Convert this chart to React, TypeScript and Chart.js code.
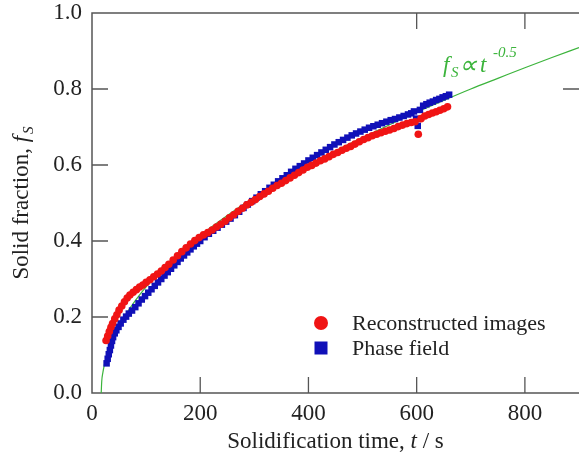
import React, { useEffect, useRef } from "react";
import { Chart, registerables } from "chart.js";

Chart.register(...registerables);

// ---------- data ----------
const reconTimes = [
  26, 29, 32, 35, 38, 42, 46, 50, 55, 60, 65, 70, 76, 82, 88, 94, 100, 107, 114, 121, 128, 135, 142, 150,
  158, 166, 174, 182, 190, 198, 206, 214, 222, 230, 238, 246, 254, 262, 270, 278, 286, 294, 302, 310, 318,
  326, 334, 342, 350, 358, 366, 374, 382, 390, 398, 406, 414, 422, 430, 438, 446, 454, 462, 470, 478, 486,
  494, 502, 510, 518, 526, 534, 542, 550, 558, 566, 574, 582, 590, 597, 603, 608, 615, 622, 629, 636, 643,
  650, 657,
];
const reconFractions = [
  0.138, 0.15, 0.162, 0.173, 0.183, 0.195, 0.206, 0.218, 0.229, 0.24, 0.25, 0.258, 0.265, 0.272, 0.279,
  0.284, 0.291, 0.298, 0.306, 0.313, 0.321, 0.33, 0.339, 0.35, 0.361, 0.372, 0.382, 0.392, 0.401, 0.409,
  0.416, 0.422, 0.429, 0.437, 0.444, 0.452, 0.461, 0.469, 0.478, 0.486, 0.495, 0.502, 0.509, 0.517, 0.524,
  0.531, 0.539, 0.546, 0.552, 0.559, 0.566, 0.573, 0.58, 0.587, 0.594, 0.599, 0.605, 0.611, 0.616, 0.622,
  0.628, 0.633, 0.639, 0.644, 0.649, 0.655, 0.661, 0.667, 0.672, 0.677, 0.681, 0.685, 0.689, 0.692, 0.696,
  0.701, 0.705, 0.709, 0.712, 0.714, 0.681, 0.722, 0.729, 0.733, 0.737, 0.74, 0.744, 0.748, 0.753,
];

const phaseTimes = [
  27, 29, 31, 33, 35, 37, 39, 42, 45, 49, 53, 58, 63, 68, 74, 80, 86, 92, 98, 104, 110, 116, 122, 128, 134,
  140, 146, 152, 158, 164, 170, 176, 182, 188, 194, 200, 208, 216, 224, 232, 240, 248, 256, 264, 272, 280,
  288, 296, 304, 312, 320, 328, 336, 344, 352, 360, 368, 376, 384, 392, 400, 408, 416, 424, 432, 440, 448,
  456, 464, 472, 480, 488, 496, 504, 512, 520, 528, 536, 544, 552, 560, 568, 576, 584, 590, 595, 599, 602,
  606, 612, 618, 624, 630, 636, 642, 648, 654, 660,
];
const phaseFractions = [
  0.078, 0.09, 0.102, 0.113, 0.125, 0.137, 0.147, 0.157, 0.165, 0.174, 0.183, 0.193, 0.201, 0.209, 0.217,
  0.226, 0.236, 0.246, 0.255, 0.264, 0.273, 0.282, 0.291, 0.3, 0.309, 0.318, 0.327, 0.336, 0.345, 0.354,
  0.362, 0.37, 0.378, 0.386, 0.393, 0.4, 0.41, 0.419, 0.427, 0.435, 0.443, 0.451, 0.459, 0.468, 0.477,
  0.487, 0.496, 0.505, 0.514, 0.523, 0.531, 0.54, 0.548, 0.557, 0.565, 0.573, 0.582, 0.59, 0.597, 0.604,
  0.612, 0.619, 0.626, 0.633, 0.64, 0.647, 0.654, 0.66, 0.666, 0.672, 0.678, 0.683, 0.688, 0.693, 0.698,
  0.702, 0.706, 0.71, 0.714, 0.718, 0.721, 0.725, 0.729, 0.733, 0.736, 0.741, 0.722, 0.703, 0.745, 0.756,
  0.76, 0.764, 0.767, 0.771, 0.774, 0.778, 0.781, 0.785,
];

const fitTimes = [17, 18, 20, 23, 27, 32, 40, 50, 65, 80, 100, 130, 160, 200, 250, 300, 350, 400, 450, 500, 550, 600, 650, 700, 750, 800, 850, 900];
const fitFractions = [0, 0.031, 0.053, 0.075, 0.097, 0.118, 0.147, 0.176, 0.212, 0.243, 0.279, 0.325, 0.366, 0.414, 0.467, 0.515, 0.558, 0.599, 0.637, 0.672, 0.706, 0.739, 0.77, 0.8, 0.828, 0.856, 0.883, 0.909];

const seriesLabels = ["Reconstructed images", "Phase field"];
const xAxisRange = [0, 900];
const yAxisRange = [0, 1];
const xStep = 200;
const yStep = 0.2;
const topTickValues = [600, 800];
const rightTickValues = [0.8];

// ---------- style ----------
const SERIF = "'Liberation Serif', 'Times New Roman', serif";
const RED = "#f01414";
const BLUE = "#1010b8";
const GREEN = "#3cb43c";
const AXIS = "#555555";
const TEXT = "#222222";

type Run = { text: string; italic?: boolean; size: number; dy?: number; gap?: number };

function drawRuns(ctx: CanvasRenderingContext2D, runs: Run[], x: number, y: number) {
  let cx = x;
  for (const r of runs) {
    cx += r.gap || 0;
    ctx.font = `${r.italic ? "italic " : ""}${r.size}px ${SERIF}`;
    ctx.fillText(r.text, cx, y + (r.dy || 0));
    cx += ctx.measureText(r.text).width;
  }
}
function runsWidth(ctx: CanvasRenderingContext2D, runs: Run[]) {
  let w = 0;
  for (const r of runs) {
    ctx.font = `${r.italic ? "italic " : ""}${r.size}px ${SERIF}`;
    w += ctx.measureText(r.text).width + (r.gap || 0);
  }
  return w;
}

const decorPlugin = {
  id: "decor",
  beforeDatasetsDraw(chart: any) {
    const { ctx, chartArea: a, scales } = chart;
    const x = scales.x;
    const y = scales.y;
    ctx.save();
    ctx.strokeStyle = AXIS;
    ctx.lineWidth = 1.5;
    ctx.beginPath();
    ctx.moveTo(a.right + 2, a.top);
    ctx.lineTo(a.left, a.top);
    ctx.lineTo(a.left, a.bottom);
    ctx.lineTo(a.right + 2, a.bottom);
    ctx.stroke();
    const L = 16;
    ctx.lineWidth = 1.3;
    ctx.beginPath();
    for (const t of x.ticks) {
      if (t.value <= xAxisRange[0]) continue;
      const px = x.getPixelForValue(t.value);
      ctx.moveTo(px, a.bottom);
      ctx.lineTo(px, a.bottom - L);
    }
    for (const v of topTickValues) {
      const px = x.getPixelForValue(v);
      ctx.moveTo(px, a.top);
      ctx.lineTo(px, a.top + L);
    }
    for (const t of y.ticks) {
      if (t.value <= yAxisRange[0] || t.value >= yAxisRange[1]) continue;
      const py = y.getPixelForValue(t.value);
      ctx.moveTo(a.left, py);
      ctx.lineTo(a.left + L, py);
    }
    for (const v of rightTickValues) {
      const py = y.getPixelForValue(v);
      ctx.moveTo(a.right + 2, py);
      ctx.lineTo(a.right - L, py);
    }
    ctx.stroke();
    ctx.restore();
  },
  afterDatasetsDraw(chart: any) {
    const { ctx, chartArea: a } = chart;
    ctx.save();
    ctx.fillStyle = TEXT;
    ctx.textBaseline = "alphabetic";
    ctx.textAlign = "left";

    // x title
    const xRuns: Run[] = [
      { text: "Solidification time, ", size: 23 },
      { text: "t", italic: true, size: 23 },
      { text: " / s", size: 23 },
    ];
    const xw = runsWidth(ctx, xRuns);
    drawRuns(ctx, xRuns, (a.left + a.right) / 2 - xw / 2, 448);

    // y title (rotated)
    const yRuns: Run[] = [
      { text: "Solid fraction, ", size: 23 },
      { text: "f", italic: true, size: 23 },
      { text: "S", italic: true, size: 15, dy: 5, gap: 2 },
    ];
    const yw = runsWidth(ctx, yRuns);
    ctx.save();
    ctx.translate(28, (a.top + a.bottom) / 2 + yw / 2);
    ctx.rotate(-Math.PI / 2);
    drawRuns(ctx, yRuns, 0, 0);
    ctx.restore();

    // legend
    const lx = 321;
    const ly1 = 323;
    const ly2 = 348;
    ctx.fillStyle = RED;
    ctx.beginPath();
    ctx.arc(lx, ly1, 7, 0, Math.PI * 2);
    ctx.fill();
    ctx.fillStyle = BLUE;
    ctx.fillRect(lx - 6.5, ly2 - 6.5, 13, 13);
    ctx.fillStyle = TEXT;
    ctx.font = `22px ${SERIF}`;
    ctx.textBaseline = "middle";
    ctx.fillText(seriesLabels[0], 352, ly1 + 1);
    ctx.fillText(seriesLabels[1], 352, ly2 + 1);

    // annotation
    ctx.textBaseline = "alphabetic";
    ctx.fillStyle = GREEN;
    const put = (text: string, size: number, px: number, py: number) => {
      ctx.font = `italic ${size}px ${SERIF}`;
      ctx.fillText(text, px, py);
    };
    put("f", 23, 443, 72);
    put("S", 15, 451, 77);
    put("\u221D", 25, 459, 73);
    put("t", 23, 480, 72);
    put("-0.5", 15, 493, 57);
    ctx.restore();
  },
};

function zeroPad(s: any) {
  s.paddingTop = 0;
  s.paddingBottom = 0;
  s.paddingLeft = 0;
  s.paddingRight = 0;
}

export default function App() {
  const ref = useRef<HTMLCanvasElement | null>(null);
  useEffect(() => {
    if (!ref.current) return;
    const recon = reconTimes.map((t, i) => ({ x: t, y: reconFractions[i] }));
    const phase = phaseTimes.map((t, i) => ({ x: t, y: phaseFractions[i] }));
    const fit = fitTimes.map((t, i) => ({ x: t, y: fitFractions[i] }));
    const tickFont = { family: SERIF, size: 23 };
    const chart = new Chart(ref.current, {
      type: "scatter",
      data: {
        datasets: [
          {
            label: seriesLabels[0],
            data: recon,
            pointStyle: "circle",
            pointRadius: 3.8,
            pointBorderWidth: 0,
            backgroundColor: RED,
            borderColor: RED,
          },
          {
            label: seriesLabels[1],
            data: phase,
            pointStyle: "rect",
            pointRadius: 4.6,
            pointBorderWidth: 0,
            backgroundColor: BLUE,
            borderColor: BLUE,
          },
          {
            label: "fit",
            data: fit,
            showLine: true,
            pointRadius: 0,
            borderColor: GREEN,
            borderWidth: 1.2,
            cubicInterpolationMode: "monotone",
            fill: false,
          } as any,
        ],
      },
      options: {
        responsive: false,
        animation: false,
        devicePixelRatio: 1,
        layout: { autoPadding: false, padding: { top: 13, right: 0, left: 0, bottom: 0 } },
        plugins: { legend: { display: false }, tooltip: { enabled: false } },
        scales: {
          x: {
            type: "linear",
            min: xAxisRange[0],
            max: xAxisRange[1],
            grid: { display: false, drawTicks: false },
            border: { display: false },
            ticks: {
              stepSize: xStep,
              includeBounds: false,
              font: tickFont,
              color: TEXT,
              padding: 7,
              maxRotation: 0,
              callback: (v: any) => String(v),
            },
            afterFit: (s: any) => {
              s.height = 71;
              zeroPad(s);
            },
          },
          y: {
            type: "linear",
            min: yAxisRange[0],
            max: yAxisRange[1],
            grid: { display: false, drawTicks: false },
            border: { display: false },
            ticks: {
              stepSize: yStep,
              font: tickFont,
              color: TEXT,
              padding: 10,
              callback: (v: any) => Number(v).toFixed(1),
            },
            afterFit: (s: any) => {
              s.width = 92;
              zeroPad(s);
            },
          },
        },
      } as any,
      plugins: [decorPlugin],
    });
    return () => chart.destroy();
  }, []);
  return (
    <div style={{ position: "absolute", left: 0, top: 0, width: 579, height: 464, background: "#fff" }}>
      <canvas ref={ref} width={579} height={464} style={{ display: "block" }} />
    </div>
  );
}
